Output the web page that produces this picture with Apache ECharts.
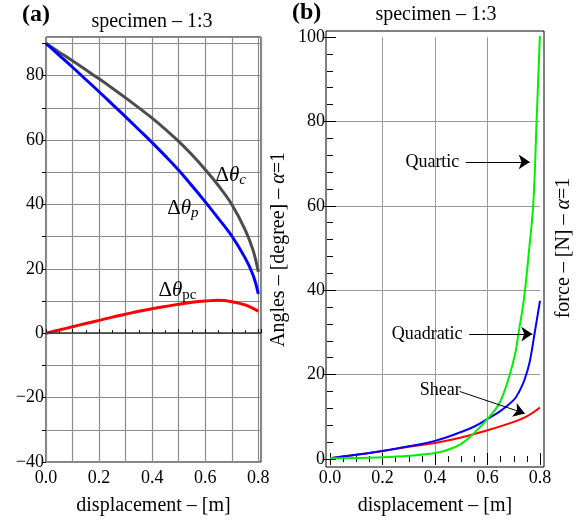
<!DOCTYPE html>
<html><head><meta charset="utf-8">
<script src="https://cdn.jsdelivr.net/npm/echarts@6/dist/echarts.min.js"></script>
<style>html,body{margin:0;padding:0;background:#fff}#c{width:580px;height:521px}</style>
</head><body><div id="c"></div>
<script>
// ---- Panel (a) data ----
var dispA = [0, 0.05, 0.1, 0.15, 0.2, 0.25, 0.3, 0.35, 0.4, 0.45, 0.5, 0.55, 0.6, 0.65, 0.7, 0.75, 0.78, 0.8];
var thetaC = [90, 87.3, 84.6, 81.8, 79, 76.1, 73.1, 70, 66.8, 63.3, 59.6, 55.4, 50.8, 45.8, 40, 32.2, 25.8, 19];
var thetaP = [90, 86.3, 82.6, 78.8, 75.0, 71.1, 67.2, 63.2, 59.2, 55.0, 50.6, 45.8, 40.8, 35.6, 30.2, 23.4, 18.1, 12.2];
var thetaPC = [0, 1.0, 2.0, 3.0, 4.0, 5.0, 5.9, 6.8, 7.6, 8.3, 9.0, 9.6, 10.0, 10.2, 9.8, 8.8, 7.7, 6.8];
var xTicksA = [0, 0.2, 0.4, 0.6, 0.8];
var yTicksA = [-40, -20, 0, 20, 40, 60, 80];
// ---- Panel (b) data ----
var dispQuartic = [0, 0.1, 0.2, 0.3, 0.4, 0.45, 0.5, 0.55, 0.6, 0.65, 0.7, 0.72, 0.74, 0.76, 0.775, 0.787, 0.8];
var quartic = [0.2, 0.25, 0.4, 0.75, 1.4, 2.2, 3.6, 6.2, 9.5, 13.8, 23.5, 30.5, 38.5, 50.5, 61, 80, 101];
var dispQuadratic = [0, 0.1, 0.2, 0.3, 0.4, 0.5, 0.55, 0.6, 0.65, 0.7, 0.72, 0.74, 0.76, 0.78, 0.8];
var quadratic = [0.2, 1.0, 1.9, 3.0, 4.3, 6.4, 7.7, 9.5, 11.4, 14.0, 15.9, 18.6, 22.8, 30, 37.5];
var dispShear = [0, 0.1, 0.2, 0.3, 0.4, 0.5, 0.6, 0.7, 0.75, 0.8];
var shear = [0.2, 1.0, 1.9, 2.9, 3.8, 5.1, 6.8, 8.8, 10.1, 12.2];
var xTicksB = [0, 0.2, 0.4, 0.6, 0.8];
var yTicksB = [0, 20, 40, 60, 80, 100];

function pairs(xs, ys){ return xs.map(function(x,i){return [x, ys[i]];}); }
var FF = 'Liberation Serif, Times New Roman, serif';
var chart = echarts.init(document.getElementById('c'), null, {renderer:'canvas'});
var txt = {fontFamily: FF, color: '#000', fontSize: 18};
var richSym = {
  a: {fontFamily: FF, fontSize: 21, color:'#000'},
  i: {fontFamily: FF, fontSize: 21, fontStyle:'italic', color:'#000'},
  s: {fontFamily: FF, fontSize: 15, fontStyle:'italic', color:'#000', padding:[10,0,0,0]},
  r: {fontFamily: FF, fontSize: 15, color:'#000', padding:[10,0,0,0]}
};
function labelPt(coord, fmt){
  return {coord: coord, symbol:'circle', symbolSize: 0,
    label:{show:true, position:'inside', formatter: fmt, rich: richSym, fontFamily: FF, fontSize: 18, color:'#000'}};
}
var arrowLine = {silent:true, symbol:['none','arrow'], symbolSize:11, label:{show:false},
  itemStyle:{color:'#000'}, lineStyle:{color:'#000', width:1, type:'solid'}, emphasis:{disabled:true}};
function fmtNum(v){ return v < 0 ? '\u2212' + (-v) : String(v); }
var nameRich = {t:{fontFamily:FF, fontSize:20, color:'#000'}, i:{fontFamily:FF, fontSize:20, fontStyle:'italic', color:'#000'}};
var SM = 0.4;

var option = {
  animation: false,
  grid: [
    {left: 46, top: 37, width: 215, height: 428, show: true, borderColor:'#000', borderWidth: 1, backgroundColor:'transparent'},
    {left: 330, top: 37, width: 210, height: 426},
    {left: 326, top: 31, width: 218, height: 436, show: true, borderColor:'#000', borderWidth: 1, backgroundColor:'transparent'}
  ],
  xAxis: [
    {gridIndex:0, type:'value', min:0, max:0.81, interval:0.1,
     axisLine:{show:false}, axisTick:{show:true, inside:true, length:4, lineStyle:{color:'#000'}},
     minorTick:{show:true, splitNumber:2, length:3, lineStyle:{color:'#000'}},
     splitLine:{show:true, lineStyle:{color:'#8c8c8c', width:1.2}},
     axisLabel:Object.assign({margin:7, showMaxLabel:false, formatter:function(v){
        for (var k=0;k<xTicksA.length;k++){ if (Math.abs(v-xTicksA[k])<1e-6) return xTicksA[k].toFixed(1);} return '';}}, txt),
     name:'displacement \u2013 [m]', nameLocation:'middle', nameGap:34,
     nameTextStyle:{fontFamily:FF, fontSize:20, color:'#000'}},
    {gridIndex:1, type:'value', min:0, max:0.8, interval:0.2, offset:4,
     axisLine:{show:false}, axisTick:{show:true, inside:true, length:6, lineStyle:{color:'#000'}},
     minorTick:{show:true, splitNumber:4, length:3, lineStyle:{color:'#000'}},
     splitLine:{show:true, showMinLine:false, showMaxLine:false, lineStyle:{color:'#9a9a9a', width:1}},
     axisLabel:Object.assign({margin:6, formatter:function(v){return v.toFixed(1);}}, txt),
     name:'displacement \u2013 [m]', nameLocation:'middle', nameGap:33,
     nameTextStyle:{fontFamily:FF, fontSize:20, color:'#000'}},
    {gridIndex:1, type:'value', position:'top', min:0, max:0.8, interval:0.2, offset:6,
     axisLine:{show:false}, axisTick:{show:true, inside:true, length:6, lineStyle:{color:'#000'}},
     minorTick:{show:true, splitNumber:4, length:3, lineStyle:{color:'#000'}},
     splitLine:{show:false}, axisLabel:{show:false}},
    {gridIndex:2, type:'value', min:0, max:1, show:false}
  ],
  yAxis: [
    {gridIndex:0, type:'value', min:-40, max:92, interval:10,
     axisLine:{show:false}, axisTick:{show:true, inside:false, length:4, lineStyle:{color:'#000'}},
     splitLine:{show:true, lineStyle:{color:'#8c8c8c', width:1.2}},
     axisLabel:Object.assign({margin:2, showMaxLabel:false, formatter:function(v){
        return (yTicksA.indexOf(v) >= 0) ? fmtNum(v) : '';}}, txt)},
    {gridIndex:0, type:'value', position:'right', min:-40, max:92, interval:10,
     axisLine:{show:false}, axisTick:{show:false}, splitLine:{show:false}, axisLabel:{show:false},
     name:'{t|Angles \u2013 [degree] \u2013 }{i|\u03b1}{t|=1}', nameLocation:'middle', nameRotate:90, nameGap:8,
     nameTextStyle:{rich:nameRich}},
    {gridIndex:1, type:'value', min:0, max:100, interval:20, offset:4,
     axisLine:{show:false}, axisTick:{show:true, inside:true, length:6, lineStyle:{color:'#000'}},
     minorTick:{show:true, splitNumber:5, length:3, lineStyle:{color:'#000'}},
     splitLine:{show:true, showMinLine:false, showMaxLine:false, lineStyle:{color:'#9a9a9a', width:1}},
     axisLabel:Object.assign({margin:1, formatter:function(v){return (yTicksB.indexOf(v)>=0)?String(v):'';}}, txt)},
    {gridIndex:1, type:'value', position:'right', min:0, max:100, interval:20, offset:4,
     axisLine:{show:false}, axisTick:{show:true, inside:true, length:6, lineStyle:{color:'#000'}},
     minorTick:{show:true, splitNumber:5, length:3, lineStyle:{color:'#000'}},
     splitLine:{show:false}, axisLabel:{show:false},
     name:'{t|force \u2013 [N] \u2013 }{i|\u03b1}{t|=1}', nameLocation:'middle', nameRotate:90, nameGap:10,
     nameTextStyle:{rich:nameRich}},
    {gridIndex:2, type:'value', min:0, max:1, show:false}
  ],
  series: [
    {type:'line', xAxisIndex:0, yAxisIndex:0, data:pairs(dispA, thetaC), smooth:SM, showSymbol:false,
     lineStyle:{color:'#4d4d4d', width:3}, z:3,
     markPoint:{silent:true, data:[labelPt([0.696, 49], '{a|\u0394}{i|\u03b8}{s|c}')]}},
    {type:'line', xAxisIndex:0, yAxisIndex:0, data:pairs(dispA, thetaP), smooth:SM, showSymbol:false,
     lineStyle:{color:'#0000ff', width:3}, z:3,
     markPoint:{silent:true, data:[labelPt([0.516, 38.8], '{a|\u0394}{i|\u03b8}{s|p}')]}},
    {type:'line', xAxisIndex:0, yAxisIndex:0, data:pairs(dispA, thetaPC), smooth:SM, showSymbol:false,
     lineStyle:{color:'#ff0000', width:3}, z:3,
     markLine:{silent:true, symbol:['none','none'], label:{show:false}, lineStyle:{color:'#333', width:1.5, type:'solid'},
       data:[{yAxis:0}]},
     markPoint:{silent:true, data:[labelPt([0.495, 13.3], '{a|\u0394}{i|\u03b8}{r|pc}')]}},
    {type:'line', xAxisIndex:1, yAxisIndex:2, data:pairs(dispShear, shear), smooth:SM, showSymbol:false,
     lineStyle:{color:'#ff0000', width:2}, z:3,
     markLine:Object.assign({data:[[{coord:[0.494, 16.0]}, {coord:[0.742, 10.8]}]]}, arrowLine),
     markPoint:{silent:true, data:[labelPt([0.42, 16.2], 'Shear')]}},
    {type:'line', xAxisIndex:1, yAxisIndex:2, data:pairs(dispQuadratic, quadratic), smooth:SM, showSymbol:false,
     lineStyle:{color:'#0000ff', width:2}, z:3,
     markLine:Object.assign({data:[[{coord:[0.53, 29.6]}, {coord:[0.771, 29.6]}]]}, arrowLine),
     markPoint:{silent:true, data:[labelPt([0.37, 29.6], 'Quadratic')]}},
    {type:'line', xAxisIndex:1, yAxisIndex:2, data:pairs(dispQuartic, quartic), smooth:SM, showSymbol:false,
     lineStyle:{color:'#00ee00', width:2}, z:3,
     markLine:Object.assign({data:[[{coord:[0.517, 70.4]}, {coord:[0.761, 70.4]}]]}, arrowLine),
     markPoint:{silent:true, data:[labelPt([0.39, 70.4], 'Quartic')]}}
  ],
  graphic: [
    {type:'text', left:22, top:3, style:{text:'(a)', font:'bold 24px ' + FF, fill:'#000'}},
    {type:'text', left:292, top:1, style:{text:'(b)', font:'bold 24px ' + FF, fill:'#000'}},
    {type:'text', x:152, y:22, style:{text:'specimen \u2013 1:3', font:'20px ' + FF, fill:'#000', textAlign:'center', textVerticalAlign:'middle'}},
    {type:'text', x:436, y:15, style:{text:'specimen \u2013 1:3', font:'20px ' + FF, fill:'#000', textAlign:'center', textVerticalAlign:'middle'}}
  ]
};
chart.setOption(option);
</script>
</body></html>
